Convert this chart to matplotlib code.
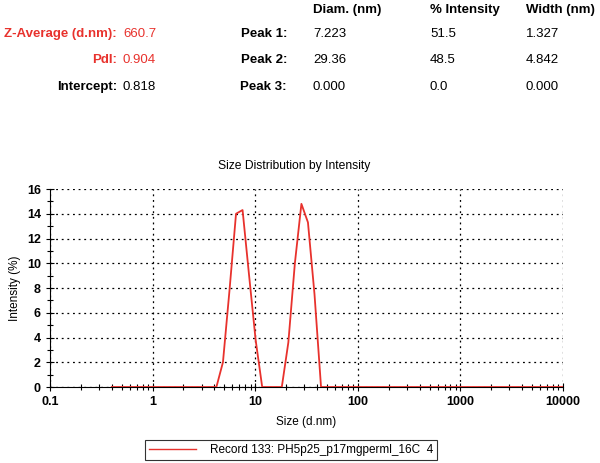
import matplotlib
matplotlib.use("Agg")
import matplotlib.pyplot as plt
from matplotlib.ticker import LogLocator, NullFormatter, FixedLocator

plt.rcParams['font.family'] = ['Liberation Sans', 'DejaVu Sans']

sizes = [0.4, 0.4632, 0.5365, 0.6213, 0.7195, 0.8332, 0.9649, 1.117, 1.294, 1.499,
         1.736, 2.01, 2.328, 2.696, 3.122, 3.615, 4.187, 4.849, 5.615, 6.503,
         7.531, 8.721, 10.1, 11.7, 13.54, 15.69, 18.17, 21.04, 24.36, 28.21,
         32.67, 37.84, 43.82, 50.75, 58.77, 68.06, 78.82, 91.28, 105.7, 122.4,
         141.8, 164.2, 190.1, 220.2, 255.0, 295.3, 342.0, 396.1, 458.7, 531.2,
         615.1, 712.4, 825.0, 955.4, 1106, 1281, 1484, 1718, 1990, 2305,
         2669, 3091, 3580, 4145, 4801, 5560, 6439, 7456, 8635, 10000]
intensity = [0]*16 + [0, 2.0, 7.8, 14.0, 14.3, 9.0, 3.8, 0, 0, 0,
                      0, 3.6, 10.0, 14.8, 13.3, 7.5, 0] + [0]*37

xticks = [0.1, 1, 10, 100, 1000, 10000]
xticklabels = ['0.1', '1', '10', '100', '1000', '10000']
yticks = [0, 2, 4, 6, 8, 10, 12, 14, 16]

left_labels = ['Z-Average (d.nm):', 'PdI:', 'Intercept:']
left_values = ['660.7', '0.904', '0.818']
left_colors = ['#e8322d', '#e8322d', 'black']
peak_labels = ['Peak 1:', 'Peak 2:', 'Peak 3:']
col_headers = ['Diam. (nm)', '% Intensity', 'Width (nm)']
peak_diam = ['7.223', '29.36', '0.000']
peak_int = ['51.5', '48.5', '0.0']
peak_width = ['1.327', '4.842', '0.000']

W, H = 600, 463
fig = plt.figure(figsize=(6, 4.63), dpi=100)

def fx(px):
    return px / W

def fy(py):
    return 1 - py / H

# header table
fs_h = 9.5
row_y = [34, 60, 87]
for i in range(3):
    fig.text(fx(117), fy(row_y[i]), left_labels[i], ha='right', va='center',
             fontsize=fs_h, fontweight='bold', color=left_colors[i])
    fig.text(fx(123), fy(row_y[i]), left_values[i], ha='left', va='center',
             fontsize=fs_h, color=left_colors[i])
    fig.text(fx(287), fy(row_y[i]), peak_labels[i], ha='right', va='center',
             fontsize=fs_h, fontweight='bold', color='black')
    fig.text(fx(313), fy(row_y[i]), peak_diam[i], ha='left', va='center', fontsize=fs_h)
    fig.text(fx(430), fy(row_y[i]), peak_int[i], ha='left', va='center', fontsize=fs_h)
    fig.text(fx(526), fy(row_y[i]), peak_width[i], ha='left', va='center', fontsize=fs_h)
for x, h in zip([313, 430, 526], col_headers):
    fig.text(fx(x), fy(10), h, ha='left', va='center', fontsize=fs_h, fontweight='bold')

# axes
ax_l, ax_r, ax_t, ax_b = 50, 563, 189, 387
ax = fig.add_axes([fx(ax_l), fy(ax_b), fx(ax_r - ax_l), (ax_b - ax_t) / H])
ax.plot(sizes, intensity, color='#e8322d', lw=1.3,
        label='Record 133: PH5p25_p17mgperml_16C  4', zorder=3)
ax.set_xscale('log')
ax.set_xlim(0.1, 10000)
ax.set_ylim(0, 16)
ax.xaxis.set_major_locator(FixedLocator(xticks))
ax.set_xticklabels(xticklabels)
ax.xaxis.set_minor_locator(LogLocator(base=10, subs=range(2, 10)))
ax.xaxis.set_minor_formatter(NullFormatter())
ax.set_yticks(yticks)
ax.set_yticks(range(1, 16, 2), minor=True)
for s in ['top', 'right']:
    ax.spines[s].set_visible(False)
ax.grid(True, which='major', color='black', linestyle=(0, (1.5, 3)), lw=0.9)
ax.tick_params(axis='both', which='major', direction='inout', length=6,
               labelsize=9, width=0.8)
ax.tick_params(axis='both', which='minor', direction='inout', length=4, width=0.8)
for lab in ax.get_xticklabels() + ax.get_yticklabels():
    lab.set_fontweight('bold')
ax.set_xlabel('Size (d.nm)', fontsize=8.5, labelpad=6)
ax.set_ylabel('Intensity (%)', fontsize=8.5, labelpad=4)
fig.text(fx(294), fy(166), 'Size Distribution by Intensity', ha='center',
         va='center', fontsize=8.7)

leg = fig.legend(loc='center', bbox_to_anchor=(fx(291), fy(450)), fontsize=8.5,
                 frameon=True, fancybox=False, edgecolor='black',
                 handlelength=4.0, handletextpad=1.2, borderpad=0.3)
leg.get_frame().set_linewidth(0.8)
leg.get_lines()[0].set_linewidth(1.0)

fig.savefig('out.png', dpi=100)
